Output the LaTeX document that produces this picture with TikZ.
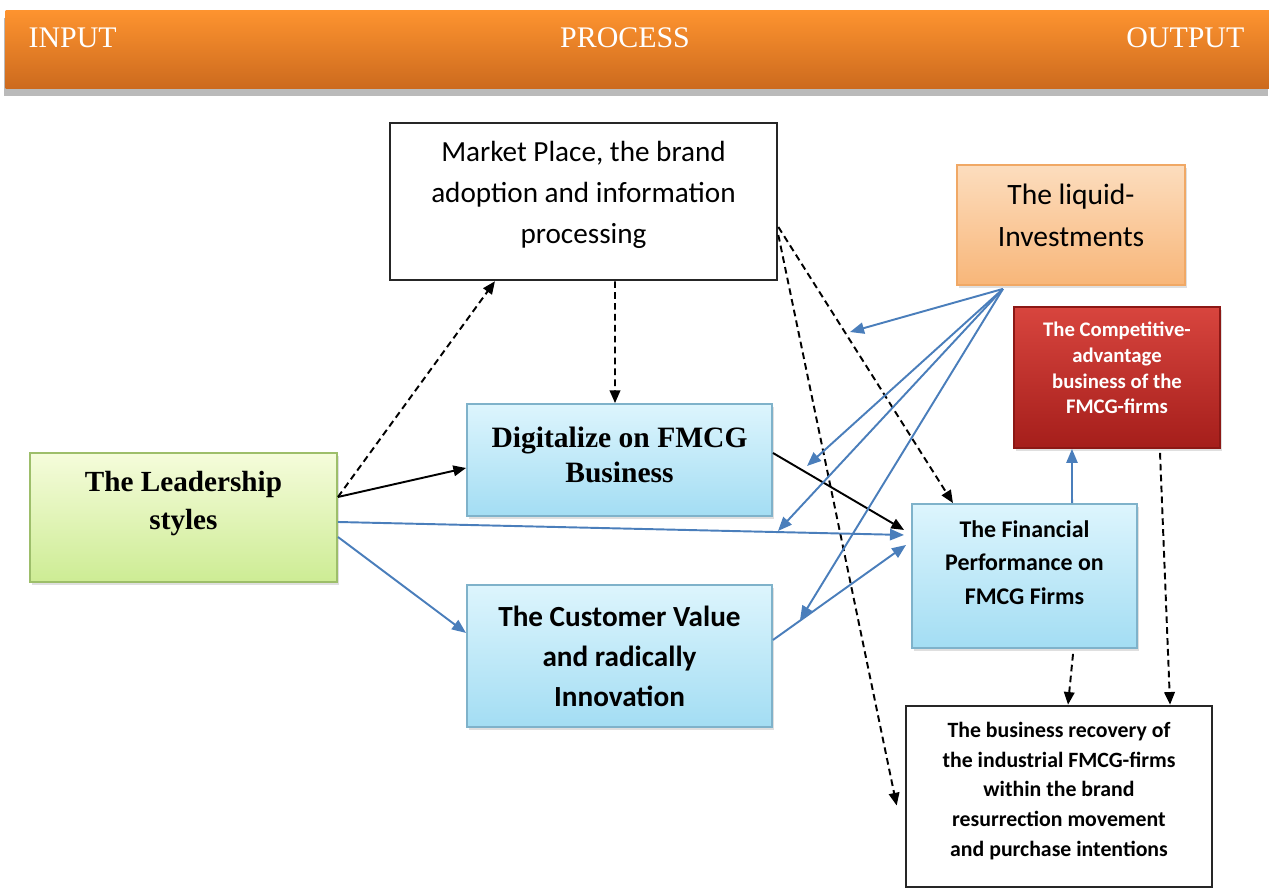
\documentclass[tikz,border=0pt]{standalone}
\usepackage{fontspec}
\setmainfont{Liberation Serif}
\newfontfamily\cali{Carlito}
\usetikzlibrary{arrows.meta,shadows}
\definecolor{barTop}{HTML}{FD932F}
\definecolor{barBot}{HTML}{CC6A1E}
\definecolor{blueTop}{HTML}{DDF5FD}
\definecolor{blueBot}{HTML}{A3DDF3}
\definecolor{blueEdge}{HTML}{7FB2CA}
\definecolor{greenTop}{HTML}{F5FCDB}
\definecolor{greenBot}{HTML}{CDEC94}
\definecolor{greenEdge}{HTML}{9DBE6A}
\definecolor{peachTop}{HTML}{FCDDBE}
\definecolor{peachBot}{HTML}{F8B679}
\definecolor{peachEdge}{HTML}{F0A865}
\definecolor{redTop}{HTML}{D8453E}
\definecolor{redBot}{HTML}{A51E1B}
\definecolor{redEdge}{HTML}{8C1815}
\definecolor{arrBlue}{HTML}{4A7EBB}
\begin{document}
\begin{tikzpicture}[x=0.01cm,y=-0.01cm,
	shadebox/.style={rectangle,align=center,inner sep=1pt,line width=0.5pt,
		drop shadow={shadow xshift=0.6pt,shadow yshift=-0.9pt,opacity=0.25}},
	bluebox/.style={shadebox,draw=blueEdge,top color=blueTop,bottom color=blueBot},
	greenbox/.style={shadebox,draw=greenEdge,top color=greenTop,bottom color=greenBot},
	peachbox/.style={shadebox,draw=peachEdge,top color=peachTop,bottom color=peachBot},
	redbox/.style={shadebox,draw=redEdge,top color=redTop,bottom color=redBot,text=white},
	plainbox/.style={rectangle,align=center,inner sep=1pt,draw=black!85,line width=0.7pt,fill=white},
	hdr/.style={text=white,font=\fontsize{8.5}{10}\selectfont,inner sep=0pt},
	blk/.style={-{Triangle[length=3.6pt,width=3pt]},line width=0.55pt},
	dsh/.style={blk,dash pattern=on 1.9pt off 1.2pt},
	blu/.style={-{Triangle[length=4pt,width=3.2pt]},color=arrBlue,line width=0.55pt}]
	\useasboundingbox (0,0) rectangle (1269,889);
	\node[rectangle,anchor=north west,minimum width=12.64cm,minimum height=0.78cm,top color=barTop,bottom color=barBot,
		drop shadow={shadow xshift=-0.6pt,shadow yshift=-2pt,fill=black!45,opacity=0.6}] (bar) at (5,10) {};
	\node[hdr,anchor=base west] (inp) at (28,48) {INPUT};
	\node[hdr,anchor=base] (proc) at (625,48) {PROCESS};
	\node[hdr,anchor=base east] (outp) at (1245,48) {OUTPUT};

	\node[plainbox,minimum width=3.87cm,minimum height=1.57cm,text depth=5pt,font=\cali\fontsize{8.3}{11.7}\selectfont] (market) at (583.5,201.5)
		{Market Place, the brand\\adoption and information\\processing};
	\node[bluebox,minimum width=3.05cm,minimum height=1.12cm,text depth=3.2pt,font=\fontsize{8.4}{10}\selectfont\bfseries] (digi) at (619.5,460)
		{Digitalize on FMCG\\Business};
	\node[greenbox,minimum width=3.07cm,minimum height=1.29cm,text depth=10pt,font=\fontsize{8.3}{10.8}\selectfont\bfseries] (lead) at (183.5,517.5)
		{The Leadership\\styles};
	\node[bluebox,minimum width=3.05cm,minimum height=1.42cm,font=\cali\bfseries\fontsize{8.3}{11.4}\selectfont] (cust) at (619.5,656)
		{The Customer Value\\and radically\\Innovation};
	\node[peachbox,minimum width=2.28cm,minimum height=1.2cm,text depth=5.4pt,font=\cali\fontsize{8.4}{12}\selectfont] (liq) at (1071,225)
		{The liquid-\\Investments};
	\node[redbox,minimum width=2.06cm,minimum height=1.41cm,text depth=5.3pt,font=\cali\bfseries\fontsize{5.9}{7.3}\selectfont] (comp) at (1117,377.5)
		{The Competitive-\\advantage\\business of the\\FMCG-firms};
	\node[bluebox,minimum width=2.25cm,minimum height=1.44cm,text depth=7.7pt,font=\cali\bfseries\fontsize{6.8}{9.5}\selectfont] (fin) at (1024.5,576)
		{The Financial\\Performance on\\FMCG Firms};
	\node[plainbox,minimum width=3.06cm,minimum height=1.81cm,text depth=4.1pt,font=\cali\bfseries\fontsize{6.2}{8.4}\selectfont] (rec) at (1059,796.5)
		{The business recovery of\\the industrial FMCG-firms\\within the brand\\resurrection movement\\and purchase intentions};

	\coordinate (src) at ([xshift=-0.68cm,yshift=-0.03cm]liq.south);
	\coordinate (t1) at (850,332);
	\coordinate (t2) at (807,466);
	\coordinate (t3) at (778,531);
	\coordinate (t4) at (800,620);

	\draw[dsh] ([yshift=0.205cm]lead.east) -- ([xshift=-0.885cm]market.south);
	\draw[dsh] ([xshift=0.315cm]market.south) -- ([xshift=-0.045cm]digi.north);
	\draw[dsh] ([yshift=-0.255cm]market.east) -- ([xshift=-0.715cm]fin.north);
	\draw[dsh] ([yshift=-0.335cm]market.east) -- ([xshift=-0.08cm,yshift=-0.09cm]rec.west);
	\draw[dsh] ([xshift=0.485cm,yshift=-0.05cm]fin.south) -- ([xshift=0.09cm]rec.north);
	\draw[dsh] ([xshift=0.43cm,yshift=-0.04cm]comp.south) -- ([xshift=1.11cm]rec.north);

	\draw[blk] ([yshift=0.205cm]lead.east) -- ([yshift=-0.08cm]digi.west);
	\draw[blk] ([yshift=0.07cm]digi.east) -- ([xshift=-0.07cm,yshift=0.46cm]fin.west);

	\draw[blu] ([yshift=-0.045cm]lead.east) -- ([xshift=-0.07cm,yshift=0.41cm]fin.west);
	\draw[blu] ([yshift=-0.195cm]lead.east) -- ([yshift=0.23cm]cust.west);
	\draw[blu] ([yshift=0.16cm]cust.east) -- ([xshift=-0.05cm,yshift=0.31cm]fin.west);
	\draw[blu] ([xshift=0.475cm]fin.north) -- ([xshift=-0.45cm]comp.south);
	\draw[blu] (src) -- (t1);
	\draw[blu] (src) -- (t2);
	\draw[blu] (src) -- (t3);
	\draw[blu] (src) -- (t4);
\end{tikzpicture}
\end{document}
